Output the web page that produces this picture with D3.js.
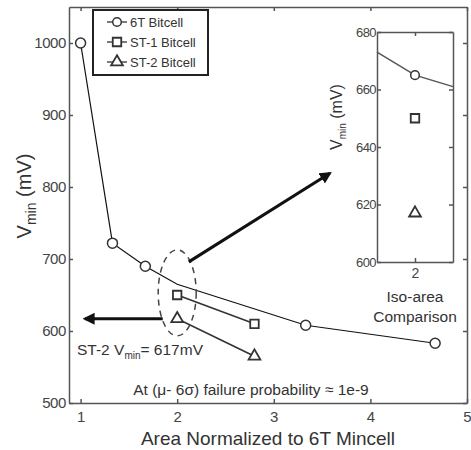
<!DOCTYPE html>
<html>
<head>
<meta charset="utf-8">
<script src="https://cdn.jsdelivr.net/npm/d3@7"></script>
<style>
  body { margin: 0; background: #fff; }
  svg { font-family: "Liberation Sans", Arial, sans-serif; }
  .axis path, .axis line { stroke: #555; stroke-width: 1.5px; }
  .axis text { fill: #444; }
</style>
</head>
<body>
<div id="chart"></div>
<script>
// data
const sixTArea = [1, 1.33, 1.67, 2, 3.33, 4.67];
const sixTVmin = [1000, 722, 690, 665, 608, 583];
const sixTMarked = [true, true, true, false, true, true];

const st1Area = [2, 2.8];
const st1Vmin = [650, 610];
const st2Area = [2, 2.8];
const st2Vmin = [617, 565];

// inset (iso-area comparison)
const insetSixTArea = [1.75, 2, 2.25];
const insetSixTVmin = [673, 665, 661];
const insetSixTMarked = [false, true, false];
const insetArea = [2];
const insetSt1 = [650];
const insetSt2 = [617];

const xTicks = [1, 2, 3, 4, 5];
const yTicks = [500, 600, 700, 800, 900, 1000];
const insetYTicks = [600, 620, 640, 660, 680];
const insetXTicks = [2];

const legendNames = ["6T Bitcell", "ST-1 Bitcell", "ST-2 Bitcell"];
const legendShapes = ["circle", "square", "triangle"];

const width = 471, height = 450;
const ink = "#333";
const fmt = d3.format("d");

const svg = d3.select("#chart").append("svg")
  .attr("width", width)
  .attr("height", height);

svg.append("rect").attr("width", width).attr("height", height).attr("fill", "#fff");

const defs = svg.append("defs");
defs.append("marker")
  .attr("id", "head")
  .attr("viewBox", "0 0 10 10")
  .attr("refX", 8).attr("refY", 5)
  .attr("markerWidth", 4).attr("markerHeight", 4)
  .attr("markerUnits", "strokeWidth")
  .attr("orient", "auto")
  .append("path")
  .attr("d", "M0,0 L10,5 L0,10 z")
  .attr("fill", "#111");

// main scales
const x = d3.scaleLinear().domain([0.88, 5]).range([69, 467]);
const y = d3.scaleLinear().domain([500, 1050]).range([403, 7]);

// axes, matlab style with ticks inside on all sides
svg.append("g").attr("class", "axis")
  .attr("transform", `translate(0,${y.range()[0]})`)
  .call(d3.axisBottom(x).tickValues(xTicks).tickFormat(fmt).tickSize(-4).tickSizeOuter(0).tickPadding(8))
  .selectAll("text").style("font-size", "15px");

svg.append("g").attr("class", "axis")
  .attr("transform", `translate(0,${y.range()[1]})`)
  .call(d3.axisTop(x).tickValues(xTicks).tickSize(-4).tickSizeOuter(0).tickFormat(""));

svg.append("g").attr("class", "axis")
  .attr("transform", `translate(${x.range()[0]},0)`)
  .call(d3.axisLeft(y).tickValues(yTicks).tickFormat(fmt).tickSize(-4).tickSizeOuter(0).tickPadding(3))
  .selectAll("text").style("font-size", "15px").style("letter-spacing", "-0.4px");

svg.append("g").attr("class", "axis")
  .attr("transform", `translate(${x.range()[1]},0)`)
  .call(d3.axisRight(y).tickValues(yTicks).tickSize(-4).tickSizeOuter(0).tickFormat(""));

// axis titles
svg.append("text")
  .attr("x", 268).attr("y", 445)
  .attr("text-anchor", "middle")
  .style("font-size", "19px").attr("fill", "#333")
  .text("Area Normalized to 6T Mincell");

const yl = svg.append("text")
  .attr("transform", "translate(31,196) rotate(-90)")
  .attr("text-anchor", "middle")
  .style("font-size", "20px").attr("fill", "#333");
yl.append("tspan").text("V");
yl.append("tspan").attr("dy", 5).style("font-size", "14px").text("min");
yl.append("tspan").attr("dy", -5).text(" (mV)");

const line = d3.line().x(d => x(d[0])).y(d => y(d[1]));

// series lines
svg.append("path")
  .datum(d3.zip(sixTArea, sixTVmin))
  .attr("d", line).attr("fill", "none").attr("stroke", "#111").attr("stroke-width", 1.2);
svg.append("path")
  .datum(d3.zip(st1Area, st1Vmin))
  .attr("d", line).attr("fill", "none").attr("stroke", ink).attr("stroke-width", 1.6);
svg.append("path")
  .datum(d3.zip(st2Area, st2Vmin))
  .attr("d", line).attr("fill", "none").attr("stroke", ink).attr("stroke-width", 1.6);

function drawMarkers(g, pts, shape, sx, sy, r) {
  if (shape === "circle") {
    g.selectAll(null).data(pts).join("circle")
      .attr("cx", d => sx(d[0])).attr("cy", d => sy(d[1])).attr("r", r || 5)
      .attr("fill", "#fff").attr("stroke", ink).attr("stroke-width", 1.5);
  } else {
    const sym = d3.symbol()
      .type(shape === "square" ? d3.symbolSquare : d3.symbolTriangle)
      .size(shape === "square" ? 72 : 60);
    g.selectAll(null).data(pts).join("path")
      .attr("transform", d => `translate(${sx(d[0])},${sy(d[1])})`)
      .attr("d", sym)
      .attr("fill", "#fff").attr("stroke", ink).attr("stroke-width", 1.8);
  }
}

drawMarkers(svg, d3.zip(sixTArea, sixTVmin).filter((d, i) => sixTMarked[i]), "circle", x, y);
drawMarkers(svg, d3.zip(st1Area, st1Vmin), "square", x, y);
drawMarkers(svg, d3.zip(st2Area, st2Vmin), "triangle", x, y);

// dashed ellipse round the iso-area points
svg.append("ellipse")
  .attr("cx", x(2)).attr("cy", y(653))
  .attr("rx", 19).attr("ry", 43)
  .attr("fill", "none").attr("stroke", "#444")
  .attr("stroke-width", 1.5).attr("stroke-dasharray", "6,5");

// arrows
svg.append("line")
  .attr("x1", x(2.12)).attr("y1", y(696))
  .attr("x2", x(3.58)).attr("y2", y(819))
  .attr("stroke", "#111").attr("stroke-width", 3).attr("marker-end", "url(#head)");
svg.append("line")
  .attr("x1", x(1.85)).attr("y1", y(617))
  .attr("x2", x(1.046)).attr("y2", y(617))
  .attr("stroke", "#111").attr("stroke-width", 3).attr("marker-end", "url(#head)");

// annotations
const ann = svg.append("text")
  .attr("x", 77).attr("y", 355)
  .style("font-size", "15.5px").attr("fill", "#333");
ann.append("tspan").text("ST-2 V");
ann.append("tspan").attr("dy", 4).style("font-size", "10px").text("min");
ann.append("tspan").attr("dy", -4).text("= 617mV");

svg.append("text")
  .attr("x", 251).attr("y", 395)
  .attr("text-anchor", "middle")
  .style("font-size", "15.5px").attr("fill", "#333")
  .text("At (\u03bc- 6\u03c3) failure probability \u2248 1e-9");

// legend
const lg = svg.append("g");
lg.append("rect")
  .attr("x", 93).attr("y", 10).attr("width", 115).attr("height", 65)
  .attr("fill", "#fff").attr("stroke", "#222").attr("stroke-width", 2);
legendNames.forEach((name, i) => {
  const cy = 22 + i * 20;
  lg.append("line")
    .attr("x1", 107).attr("x2", 127).attr("y1", cy).attr("y2", cy)
    .attr("stroke", ink).attr("stroke-width", 1.3);
  drawMarkers(lg, [[117, cy]], legendShapes[i], d => d, d => d, 4.3);
  lg.append("text")
    .attr("x", 130).attr("y", cy + 4.5)
    .style("font-size", "13px").attr("fill", "#333")
    .text(name);
});

// inset
const xi = d3.scaleLinear().domain([1.75, 2.25]).range([377, 453]);
const yi = d3.scaleLinear().domain([600, 680]).range([262, 32]);
const inset = svg.append("g");
inset.append("rect")
  .attr("x", xi.range()[0]).attr("y", yi.range()[1])
  .attr("width", xi.range()[1] - xi.range()[0])
  .attr("height", yi.range()[0] - yi.range()[1])
  .attr("fill", "#fff");

inset.append("g").attr("class", "axis")
  .attr("transform", `translate(0,${yi.range()[0]})`)
  .call(d3.axisBottom(xi).tickValues(insetXTicks).tickFormat(fmt).tickSize(-4).tickSizeOuter(0).tickPadding(6))
  .selectAll("text").style("font-size", "14px");
inset.append("g").attr("class", "axis")
  .attr("transform", `translate(0,${yi.range()[1]})`)
  .call(d3.axisTop(xi).tickValues(insetXTicks).tickSize(-4).tickSizeOuter(0).tickFormat(""));
inset.append("g").attr("class", "axis")
  .attr("transform", `translate(${xi.range()[0]},0)`)
  .call(d3.axisLeft(yi).tickValues(insetYTicks).tickFormat(fmt).tickSize(-4).tickSizeOuter(0).tickPadding(1))
  .selectAll("text").style("font-size", "13px").style("letter-spacing", "-0.6px");
inset.append("g").attr("class", "axis")
  .attr("transform", `translate(${xi.range()[1]},0)`)
  .call(d3.axisRight(yi).tickValues(insetYTicks).tickSize(-4).tickSizeOuter(0).tickFormat(""));

const li = d3.line().x(d => xi(d[0])).y(d => yi(d[1]));
inset.append("path")
  .datum(d3.zip(insetSixTArea, insetSixTVmin))
  .attr("d", li).attr("fill", "none").attr("stroke", "#555").attr("stroke-width", 1.5);
drawMarkers(inset, d3.zip(insetSixTArea, insetSixTVmin).filter((d, i) => insetSixTMarked[i]), "circle", xi, yi, 4.3);
drawMarkers(inset, d3.zip(insetArea, insetSt1), "square", xi, yi);
drawMarkers(inset, d3.zip(insetArea, insetSt2), "triangle", xi, yi);

const iyl = inset.append("text")
  .attr("transform", "translate(342,117) rotate(-90)")
  .attr("text-anchor", "middle")
  .style("font-size", "16px").attr("fill", "#333");
iyl.append("tspan").text("V");
iyl.append("tspan").attr("dy", 4).style("font-size", "10px").text("min");
iyl.append("tspan").attr("dy", -4).text(" (mV)");

inset.append("text")
  .attr("x", 415).attr("y", 302).attr("text-anchor", "middle")
  .style("font-size", "15.5px").attr("fill", "#333").text("Iso-area");
inset.append("text")
  .attr("x", 415).attr("y", 322).attr("text-anchor", "middle")
  .style("font-size", "15.5px").attr("fill", "#333").text("Comparison");
</script>
</body>
</html>
